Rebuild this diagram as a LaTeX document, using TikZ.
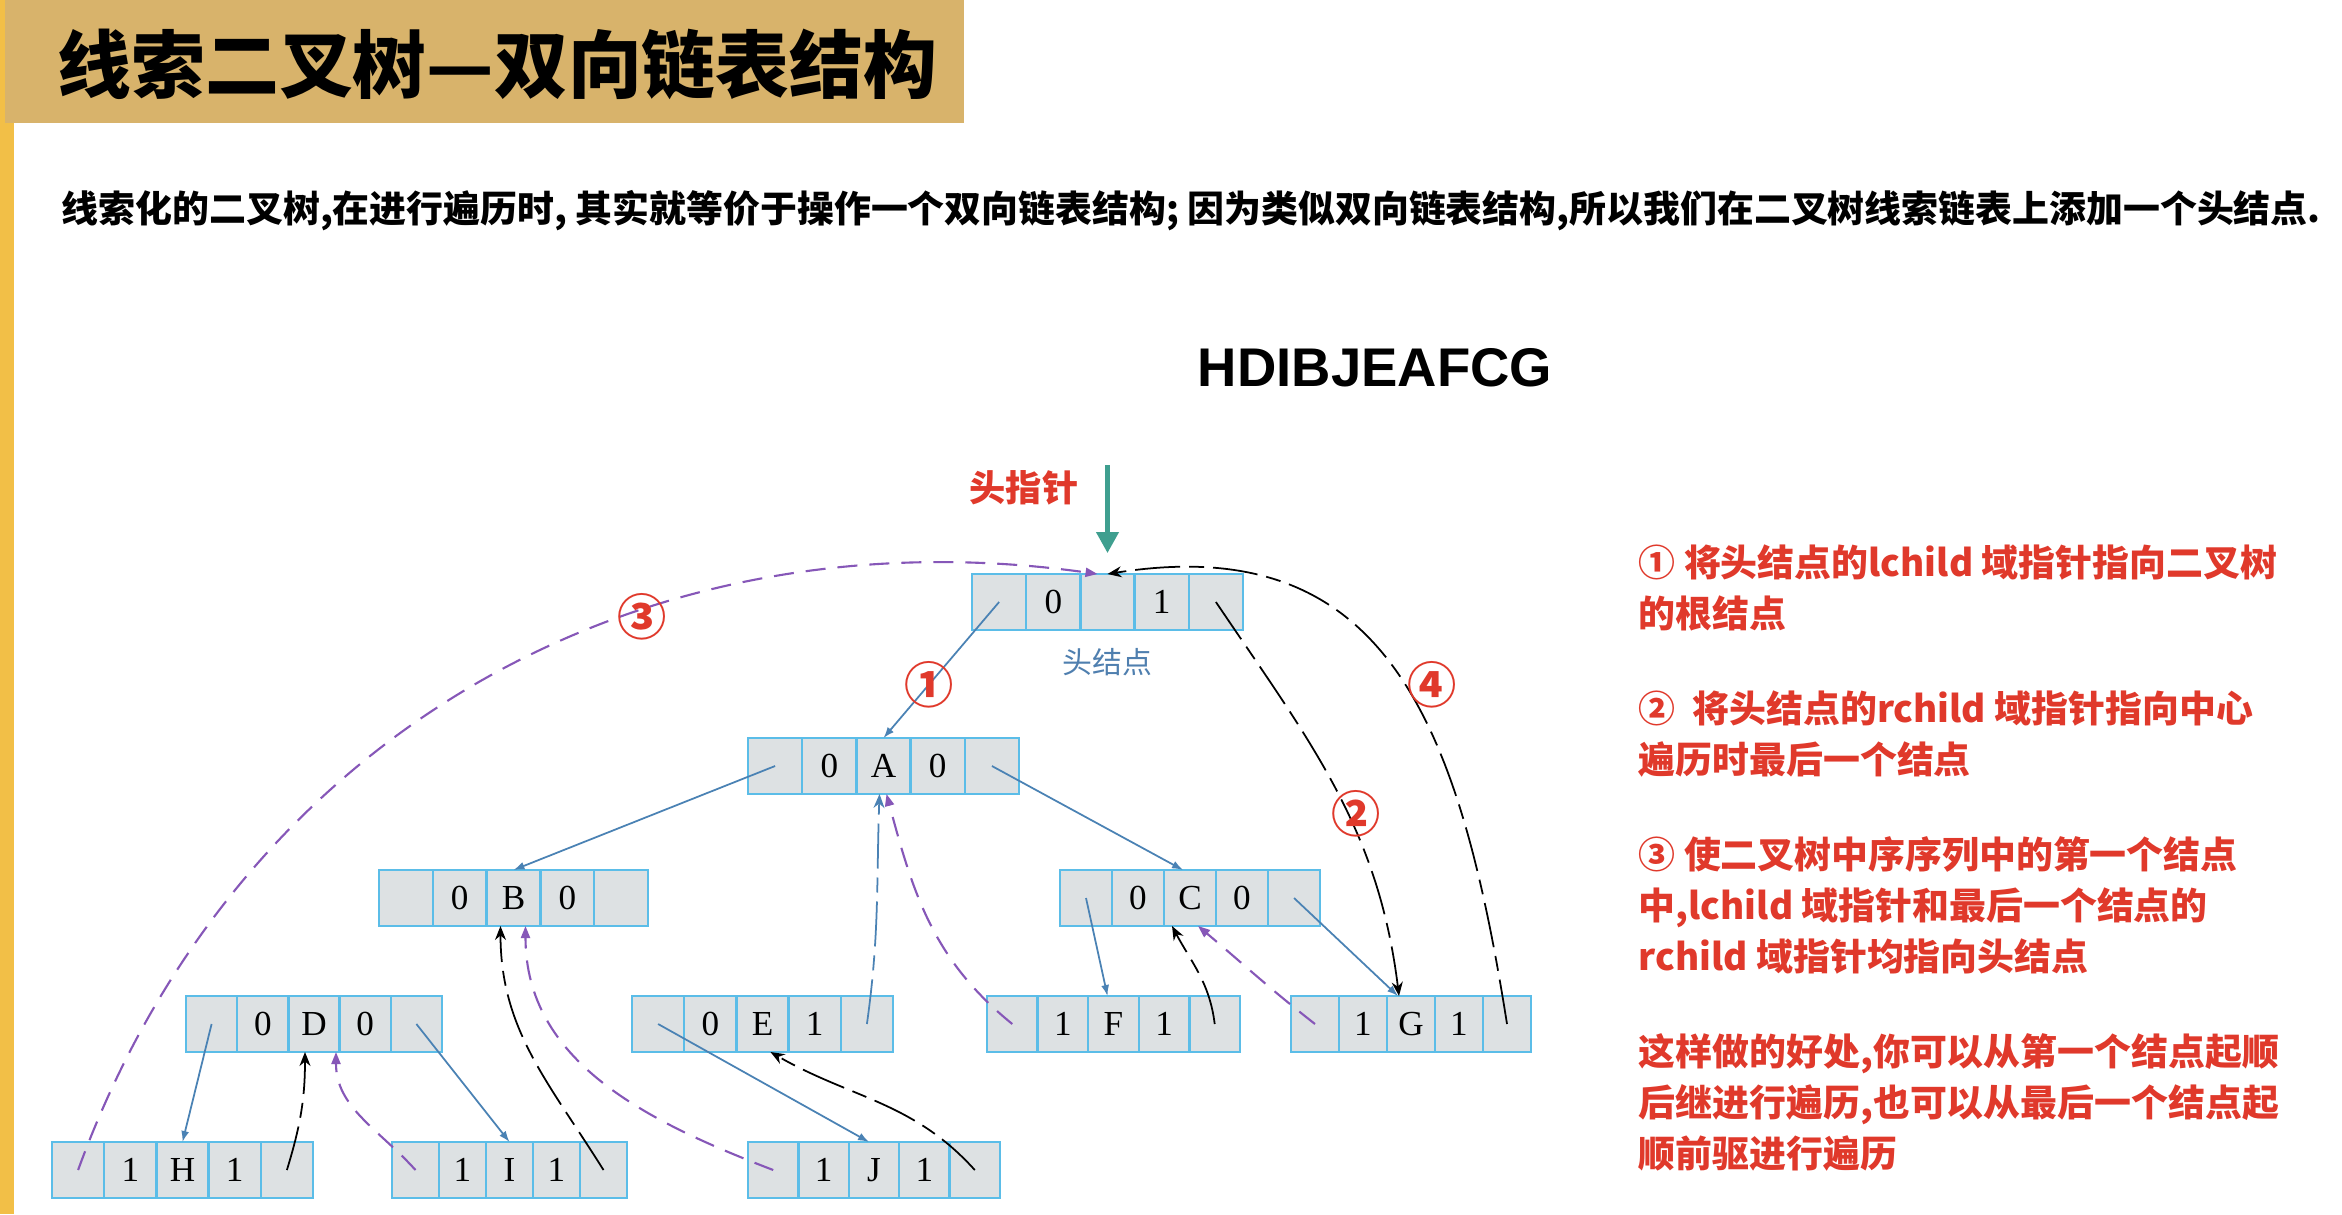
\documentclass[tikz,border=0pt]{standalone}
\usepackage{fontspec}
\setmainfont{Noto Sans CJK SC}
\newfontfamily\latinsans{Liberation Sans}
\newfontfamily\cellfont{Liberation Serif}
\usepackage{tikz}
\usetikzlibrary{positioning, arrows.meta}
\definecolor{cCELL}{HTML}{DDE1E3}
\definecolor{cBORDER}{HTML}{5BBDE8}
\definecolor{cLINK}{HTML}{4A82B4}
\definecolor{cPRED}{HTML}{8657B8}
\definecolor{cMARK}{HTML}{E0392B}
\definecolor{cPTR}{HTML}{3F9F8F}
\definecolor{cBANNER}{HTML}{D8B36B}
\definecolor{cBAR}{HTML}{F2BF47}
\definecolor{cCAP}{HTML}{4F7FAF}
\tikzset{
  cell/.style={
    draw=cBORDER, fill=cCELL, line width=0.7pt,
    minimum height=0.56cm, inner sep=0pt, outer sep=0pt,
    font=\cellfont\fontsize{10}{10}\selectfont
  },
  child/.style={
    -{Latex[length=1.1mm,width=0.8mm]},
    draw=cLINK, line width=0.5pt
  },
  succ/.style={
    -{Stealth[length=1.4mm,width=1.1mm]},
    draw=black, line width=0.5pt,
    dash pattern=on 4.5mm off 0.9mm on 1.5mm off 0.9mm
  },
  pred/.style={
    -{Triangle[length=1.2mm,width=0.9mm]},
    draw=cPRED, line width=0.6pt,
    dash pattern=on 2mm off 1.2mm
  },
  headptr/.style={
    -{Triangle[length=2.1mm,width=2.2mm]},
    draw=cPTR, line width=1.2pt, shorten >=2.1mm
  },
  circnum/.style={
    text=cMARK, inner sep=0pt,
    font=\bfseries\fontsize{14}{14}\selectfont
  },
  notes/.style={
    text=cMARK, inner sep=0pt, align=left,
    font=\bfseries\fontsize{10.5}{14.5}\selectfont
  }
}
% one thread node: name, west x, y, cell width, ltag, data, rtag
\newcommand{\threadnode}[7]{%
  \node[cell, minimum width=#4cm, anchor=west] (#1-1) at (#2,#3) {};
  \node[cell, minimum width=#4cm, right=0pt of #1-1] (#1-2) {#5};
  \node[cell, minimum width=#4cm, right=0pt of #1-2] (#1-3) {#6};
  \node[cell, minimum width=#4cm, right=0pt of #1-3] (#1-4) {#7};
  \node[cell, minimum width=#4cm, right=0pt of #1-4] (#1-5) {};
}

\begin{document}
\begin{tikzpicture}
  \useasboundingbox (0,0) rectangle (23.42,12.14);
  \fill[white] (0,0) rectangle (23.42,12.14);
  \fill[cBAR] (0,0) rectangle (0.14,12.14);
  \fill[cBANNER] (0.05,10.91) rectangle (9.64,12.14);

  \node[anchor=west, inner sep=0pt, font=\bfseries\fontsize{21}{21}\selectfont] (title) at (0.57,11.50) {线索二叉树—双向链表结构};
  \node[anchor=west, inner sep=0pt, font=\bfseries\fontsize{10.5}{12}\selectfont] (intro) at (0.61,10.03) {线索化的二叉树,在进行遍历时, 其实就等价于操作一个双向链表结构; 因为类似双向链表结构,所以我们在二叉树线索链表上添加一个头结点.};
  \node[inner sep=0pt, font=\latinsans\bfseries\fontsize{15.5}{16}\selectfont] (order) at (13.75,8.46) {HDIBJEAFCG};

  \threadnode{head}{9.72}{6.12}{0.542}{0}{}{1}
  \threadnode{A}{7.48}{4.48}{0.542}{0}{A}{0}
  \threadnode{B}{3.79}{3.16}{0.538}{0}{B}{0}
  \threadnode{C}{10.60}{3.16}{0.52}{0}{C}{0}
  \threadnode{D}{1.86}{1.90}{0.512}{0}{D}{0}
  \threadnode{E}{6.32}{1.90}{0.522}{0}{E}{1}
  \threadnode{F}{9.87}{1.90}{0.506}{1}{F}{1}
  \threadnode{G}{12.91}{1.90}{0.48}{1}{G}{1}
  \threadnode{H}{0.52}{0.44}{0.522}{1}{H}{1}
  \threadnode{I}{3.92}{0.44}{0.47}{1}{I}{1}
  \threadnode{J}{7.48}{0.44}{0.504}{1}{J}{1}

  \node[below=0.18cm of head-3, inner sep=0pt, text=cCAP, font=\fontsize{8.5}{9}\selectfont] (headcap) {头结点};
  \coordinate[above=1.09cm of head-3.north] (ptr);
  \node[inner sep=0pt, text=cMARK, font=\bfseries\fontsize{10.3}{11}\selectfont] (ptrlabel) at (10.24,7.26) {头指针};
  \draw[headptr] (ptr) -- (head-3.north);

  % child links
  \draw[child] (head-1.center) -- (A-3.north);
  \draw[child] (A-1.center) -- (B-3.north);
  \draw[child] (A-5.center) -- ([xshift=-0.07cm]C-3.north);
  \draw[child] (C-1.center) -- ([xshift=-0.06cm]F-3.north);
  \draw[child] (C-5.center) -- ([xshift=-0.13cm]G-3.north);
  \draw[child] (D-1.center) -- (H-3.north);
  \draw[child] (D-5.center) -- (I-3.north);
  \draw[child] (E-1.center) -- ([xshift=-0.05cm]J-3.north);

  % threads to the successor
  \draw[succ] (H-5.center) to[out=73, in=-90] ([xshift=-0.09cm]D-3.south);
  \draw[succ] (I-5.center) to[out=122, in=-90] ([xshift=-0.13cm]B-3.south);
  \draw[succ] (J-5.center) to[out=132, in=-30] ([xshift=0.08cm]E-3.south);
  \draw[succ] (F-5.center) to[out=97, in=-62] ([xshift=-0.18cm]C-3.south);
  \draw[succ, draw=cLINK] (E-5.center) to[out=82, in=-92] ([xshift=-0.04cm]A-3.south);
  \draw[succ] (head-5.center) to[out=-56, in=97] ([xshift=-0.12cm]G-3.north);
  \draw[succ] (G-5.center) to[out=99, in=9, out distance=3.1cm, in distance=2.8cm] (head-3.north);

  % threads to the predecessor
  \draw[pred] (H-1.center) to[out=70, in=172] ([xshift=-0.1cm]head-3.north);
  \draw[pred] (I-1.center) to[out=132, in=-90] ([xshift=0.22cm]D-3.south);
  \draw[pred] (J-1.center) to[out=159, in=-90] ([xshift=0.12cm]B-3.south);
  \draw[pred] (F-1.center) to[out=141, in=-75] ([xshift=0.03cm]A-3.south);
  \draw[pred] (G-1.center) to[out=142, in=-40] ([xshift=0.08cm]C-3.south);

  \node[circnum] (m1) at (9.29,5.29) {①};
  \node[circnum] (m2) at (13.56,4.00) {②};
  \node[circnum] (m3) at (6.42,5.97) {③};
  \node[circnum] (m4) at (14.32,5.29) {④};

  \node[notes, anchor=north west] (notes) at (16.38,6.70) {①\ 将头结点的lchild 域指针指向二叉树\\的根结点\\[0.44cm]②\ \ 将头结点的rchild 域指针指向中心\\遍历时最后一个结点\\[0.44cm]③\ 使二叉树中序序列中的第一个结点\\中,lchild 域指针和最后一个结点的\\rchild 域指针均指向头结点\\[0.44cm]这样做的好处,你可以从第一个结点起顺\\后继进行遍历,也可以从最后一个结点起\\顺前驱进行遍历};
\end{tikzpicture}
\end{document}
